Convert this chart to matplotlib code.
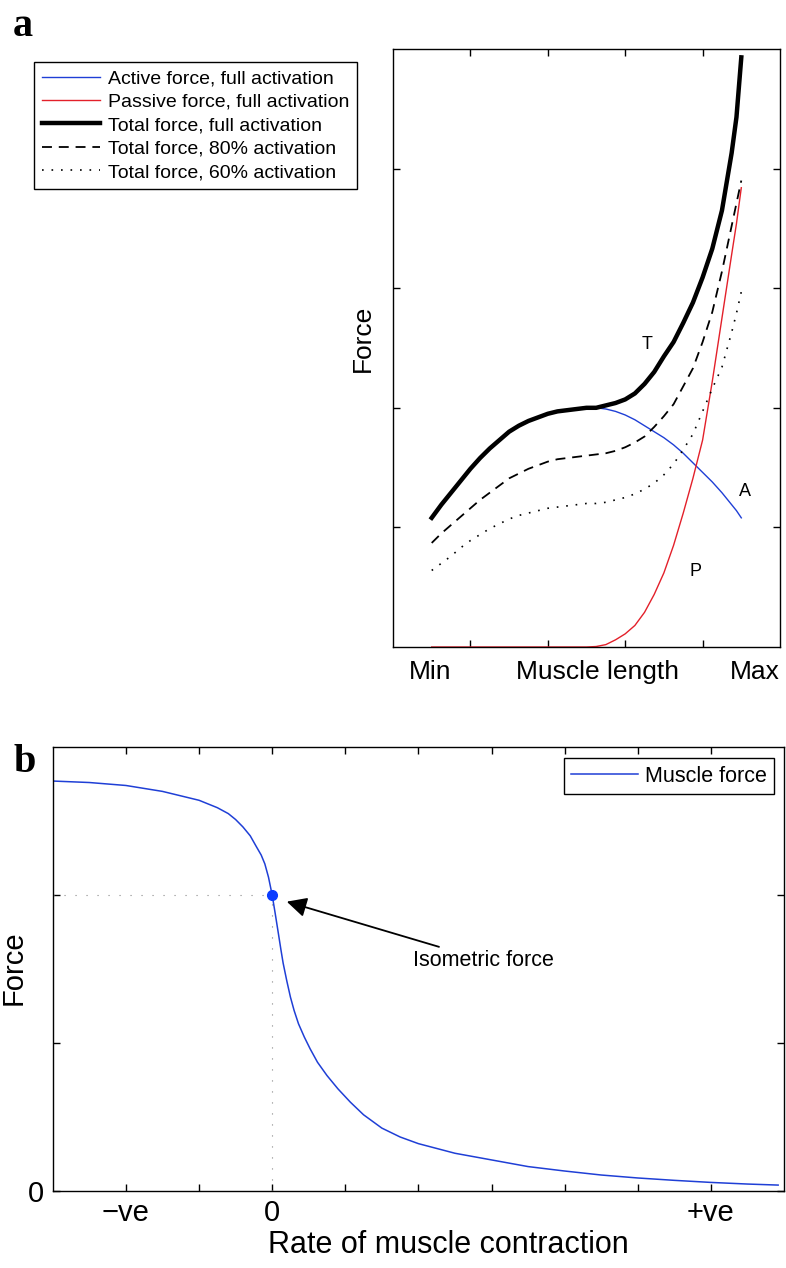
import matplotlib
matplotlib.use('Agg')
import matplotlib.pyplot as plt

plt.rcParams['font.family'] = ['Liberation Sans', 'DejaVu Sans']

# panel a: force vs muscle length (arbitrary units)
length = [0.5, 0.625, 0.75, 0.875, 1.0, 1.125, 1.25, 1.375, 1.5, 1.625, 1.75, 1.875,
          2.0, 2.125, 2.25, 2.375, 2.5, 2.625, 2.75, 2.875, 3.0, 3.125, 3.25, 3.375,
          3.5, 3.625, 3.75, 3.875, 4.0, 4.125, 4.25, 4.375, 4.4375, 4.5]
active = [1.08, 1.19, 1.29, 1.39, 1.49, 1.58, 1.66, 1.73, 1.80, 1.85, 1.89, 1.92,
          1.95, 1.97, 1.98, 1.99, 2.00, 2.00, 1.99, 1.97, 1.94, 1.90, 1.85, 1.80,
          1.75, 1.69, 1.62, 1.54, 1.46, 1.38, 1.29, 1.19, 1.14, 1.08]
passive = [0, 0, 0, 0, 0, 0, 0, 0, 0, 0, 0, 0,
           0, 0, 0, 0, 0, 0.004, 0.02, 0.06, 0.11, 0.18, 0.29, 0.44,
           0.62, 0.85, 1.12, 1.41, 1.73, 2.22, 2.75, 3.28, 3.54, 3.84]
total_full = [1.08, 1.19, 1.29, 1.39, 1.49, 1.58, 1.66, 1.73, 1.80, 1.85, 1.89, 1.92,
              1.95, 1.97, 1.98, 1.99, 2.00, 2.00, 2.02, 2.04, 2.07, 2.12, 2.20, 2.30,
              2.43, 2.55, 2.71, 2.88, 3.09, 3.33, 3.65, 4.13, 4.43, 4.93]
total_80 = [0.87, 0.95, 1.02, 1.09, 1.16, 1.23, 1.29, 1.35, 1.41, 1.45, 1.49, 1.52,
            1.55, 1.57, 1.58, 1.59, 1.60, 1.61, 1.62, 1.64, 1.67, 1.71, 1.76, 1.84,
            1.93, 2.03, 2.18, 2.33, 2.55, 2.80, 3.14, 3.52, 3.71, 3.90]
total_60 = [0.64, 0.70, 0.76, 0.83, 0.89, 0.94, 0.99, 1.03, 1.07, 1.10, 1.12, 1.14,
            1.16, 1.17, 1.18, 1.19, 1.20, 1.20, 1.21, 1.23, 1.25, 1.28, 1.32, 1.37,
            1.44, 1.53, 1.65, 1.78, 1.97, 2.16, 2.34, 2.63, 2.79, 2.97]

# panel b: force vs rate of contraction
rate = [-3.0, -2.5, -2.0, -1.5, -1.25, -1.0, -0.75, -0.6, -0.5, -0.4, -0.3, -0.22,
        -0.15, -0.1, -0.05, 0.0, 0.04, 0.085, 0.12, 0.15, 0.2, 0.25, 0.3, 0.36,
        0.44, 0.52, 0.62, 0.75, 0.9, 1.07, 1.25, 1.5, 1.75, 2.0, 2.5, 3.0,
        3.5, 4.0, 4.5, 5.0, 5.5, 6.0, 6.5, 6.92]
muscle_force = [2.77, 2.76, 2.74, 2.70, 2.67, 2.64, 2.59, 2.55, 2.51, 2.46, 2.40, 2.33,
                2.27, 2.21, 2.12, 2.0, 1.88, 1.74, 1.63, 1.54, 1.42, 1.31, 1.22, 1.13,
                1.04, 0.96, 0.87, 0.78, 0.69, 0.60, 0.515, 0.425, 0.365, 0.32, 0.255, 0.21,
                0.165, 0.135, 0.108, 0.088, 0.072, 0.058, 0.047, 0.04]
iso_rate, iso_force = 0.0, 2.0
rate_ticks = [-2, -1, 0, 1, 2, 3, 4, 5, 6]
rate_labels = ['\u2212ve', '', '0', '', '', '', '', '', '+ve']

blue = '#1f3fd6'
red = '#e3202a'

fig = plt.figure(figsize=(7.86, 12.68), dpi=100)

# ---- panel a ----
ax1 = fig.add_axes([393/786, 1 - 647/1268, 387/786, 598/1268])
ax1.plot(length, active, color=blue, lw=1.0, label='Active force, full activation')
ax1.plot(length, passive, color=red, lw=1.0, label='Passive force, full activation')
ax1.plot(length, total_full, color='k', lw=3.2, label='Total force, full activation')
ax1.plot(length, total_80, color='k', lw=1.3, ls=(0, (5.5, 3.8)),
         label='Total force, 80% activation')
ax1.plot(length, total_60, color='k', lw=1.2, ls=(0, (1, 4.7)),
         label='Total force, 60% activation')
ax1.set_xlim(0, 5)
ax1.set_ylim(0, 5)
ax1.set_xticks([1, 2, 3, 4])
ax1.set_yticks([1, 2, 3, 4])
ax1.set_xticklabels([])
ax1.set_yticklabels([])
ax1.tick_params(direction='in', length=5, width=1, top=True, right=True)
for s in ax1.spines.values():
    s.set_linewidth(1.0)

ax1.text(3.28, 2.53, 'T', fontsize=13, ha='center', va='center')
ax1.text(4.55, 1.30, 'A', fontsize=13, ha='center', va='center')
ax1.text(3.91, 0.63, 'P', fontsize=13, ha='center', va='center')

xt = ax1.get_xaxis_transform()
ax1.text(0.48, -0.042, 'Min', transform=xt, fontsize=19, ha='center', va='center')
ax1.text(2.64, -0.042, 'Muscle length', transform=xt, fontsize=19, ha='center', va='center')
ax1.text(4.68, -0.042, 'Max', transform=xt, fontsize=19, ha='center', va='center')
fig.text(363/786, 1 - 338/1268, 'Force', rotation=90, fontsize=19,
         ha='center', va='center')

leg1 = ax1.legend(loc='upper left', bbox_to_anchor=(34/786, 1 - 62/1268),
                  bbox_transform=fig.transFigure, borderaxespad=0, fontsize=14,
                  handlelength=3.0, handletextpad=0.4, labelspacing=0.3,
                  borderpad=0.4, fancybox=False, framealpha=1)
leg1.get_frame().set_edgecolor('k')
leg1.get_frame().set_linewidth(1.0)

fig.text(23/786, 1 - 27/1268, 'a', fontsize=29, fontweight='bold',
         family='Liberation Serif', ha='center', va='center')

# ---- panel b ----
ax2 = fig.add_axes([52.8/786, 1 - 1191/1268, 731.2/786, 444/1268])
ax2.plot([-3, iso_rate], [iso_force, iso_force], color='#888888', lw=0.8,
         ls=(0, (1, 8.9)))
ax2.plot([iso_rate, iso_rate], [0, iso_force], color='#888888', lw=0.8,
         ls=(0, (1, 8.9)))
ax2.plot(rate, muscle_force, color=blue, lw=1.1, label='Muscle force')
ax2.plot([iso_rate], [iso_force], 'o', color='#0a3cff', ms=7, zorder=5)
ax2.annotate('Isometric force', xy=(0.2, 1.955), xytext=(1.93, 1.56),
             fontsize=15.5, ha='left', va='center',
             arrowprops=dict(arrowstyle='-|>', color='k', lw=1.3,
                             mutation_scale=30, shrinkA=0, shrinkB=0))
ax2.set_xlim(-3, 7)
ax2.set_ylim(0, 3)
ax2.set_xticks(rate_ticks)
ax2.set_xticklabels(rate_labels, fontsize=21)
ax2.set_yticks([0, 1, 2])
ax2.set_yticklabels(['0', '', ''], fontsize=21)
ax2.tick_params(direction='in', length=5, width=1, top=True, right=True, pad=6)
for s in ax2.spines.values():
    s.set_linewidth(1.0)

fig.text(448/786, 1 - 1245/1268, 'Rate of muscle contraction', fontsize=22,
         ha='center', va='center')
fig.text(14/786, 1 - 968/1268, 'Force', rotation=90, fontsize=21,
         ha='center', va='center')

leg2 = ax2.legend(loc='upper right', bbox_to_anchor=(774/786, 1 - 758/1268),
                  bbox_transform=fig.transFigure, borderaxespad=0, fontsize=15.5,
                  handlelength=3.1, handletextpad=0.3, borderpad=0.35,
                  fancybox=False, framealpha=1)
leg2.get_frame().set_edgecolor('k')
leg2.get_frame().set_linewidth(1.0)

fig.text(25/786, 1 - 762/1268, 'b', fontsize=29, fontweight='bold',
         family='Liberation Serif', ha='center', va='center')

fig.savefig('out.png', dpi=100)
